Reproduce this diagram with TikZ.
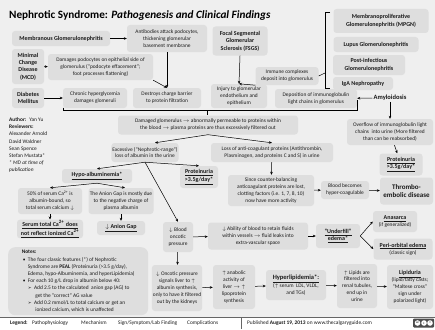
\documentclass[tikz,border=0pt]{standalone}
\usepackage{fontspec}
\setmainfont{Carlito}
\newfontfamily\djv{DejaVu Sans}
\usetikzlibrary{arrows.meta}
\definecolor{bgc}{HTML}{EFEFEF}
\definecolor{boxc}{HTML}{DEDEDE}
\definecolor{txt}{HTML}{1A1A1A}
\newcommand\fs{\fontsize{5.4}{6.9}\selectfont}
\newcommand\bfs{\fontsize{6}{7.4}\selectfont\bfseries}
\newcommand\ul[1]{\underline{#1}}
\tikzset{
  box/.style={fill=boxc, rounded corners=3pt, align=center, inner xsep=1pt, inner ysep=1pt, font=\fs, text=txt},
  bbox/.style={box, font=\bfs},
  plain/.style={align=left, inner sep=0pt, font=\fs, text=txt},
  arr/.style={-{Stealth[length=3pt,width=2.6pt]}, line width=0.5pt, draw=black},
  ln/.style={line width=0.5pt, draw=black},
}
\begin{document}
\begin{tikzpicture}[x=1pt,y=-1pt]
\useasboundingbox (0,0) rectangle (435,329);
\fill[bgc] (0,0) rectangle (435,329);
% title
\node[anchor=west, inner sep=0pt, font=\fontsize{11.2}{13}\selectfont\bfseries, text=black] (title) at (9,16) {Nephrotic Syndrome: \textit{Pathogenesis and Clinical Findings}};
% row 1
\node[bbox, minimum width=98pt, minimum height=15pt] (membgn) at (61,38.5) {Membranous Glomerulonephritis};
\node[box, minimum width=80pt, minimum height=27pt] (antib) at (167,38.5) {Antibodies attack podocytes,\\ thickening glomerular\\ basement membrane};
\node[bbox, minimum width=55pt, minimum height=29pt] (fsgs) at (240,41) {Focal Segmental\\ Glomerular\\ Sclerosis (FSGS)};
\node[bbox, minimum width=95pt, minimum height=24pt] (mpgn) at (381,21) {Membranoproliferative\\ Glomerulonephritis (MPGN)};
\node[bbox, minimum width=85pt, minimum height=15pt] (lupus) at (376,44.5) {Lupus Glomerulonephritis};
\node[bbox, minimum width=72pt, minimum height=20pt] (postinf) at (369,65) {Post-infectious\\ Glomerulonephritis};
\node[bbox, minimum width=60pt, minimum height=13pt] (iga) at (363,83.5) {IgA Nephropathy};
% row 2
\node[bbox, minimum width=32pt, minimum height=35pt] (mcd) at (28,66.5) {Minimal\\ Change\\ Disease\\ (MCD)};
\node[box, minimum width=105pt, minimum height=26pt] (damages) at (100.5,67) {Damages podocytes on epithelial side of\\ glomerulus (“podocyte effacement”;\\ foot processes flattening)};
\node[box, minimum width=63pt, minimum height=18pt] (immune) at (287,76) {Immune complexes\\ deposit into glomerulus};
% row 3
\node[bbox, minimum width=32pt, minimum height=20pt] (diab) at (28,98) {Diabetes\\ Mellitus};
\node[box, minimum width=64pt, minimum height=20pt] (chronic) at (95,98) {Chronic hyperglycemia\\ damages glomeruli};
\node[box, minimum width=68pt, minimum height=20pt] (destroys) at (167,98) {Destroys charge barrier\\ to protein filtration};
\node[box, minimum width=56pt, minimum height=24pt] (injury) at (239,96) {Injury to glomerular\\ endothelium and\\ epithelium};
\node[box, minimum width=82pt, minimum height=19pt] (depos) at (316,98.5) {Deposition of immunoglobulin\\ light chains in glomerulus};
\node[inner sep=1pt, font=\fontsize{6.5}{8}\selectfont\bfseries, text=txt] (amyl) at (390,98) {Amyloidosis};
\node[box, minimum width=86pt, minimum height=26pt] (overflow) at (390,132) {Overflow of immunoglobulin light\\ chains \ into urine (More filtered\\ than can be reabsorbed)};
\node[bbox, minimum width=43pt, minimum height=22pt] (prot2) at (401,164.5) {\ul{Proteinuria}\\ \ul{>3.5g/day*}};
% row 4
\node[box, minimum width=180pt, minimum height=19pt] (damaged) at (208,125) {Damaged glomerulus $\rightarrow$ abnormally permeable to proteins within\\ the blood $\rightarrow$ plasma proteins are thus excessively filtered out};
\node[box, minimum width=66pt, minimum height=19pt] (excess) at (145,152.5) {Excessive (“Nephrotic-range”)\\ loss of albumin in the urine};
\node[box, minimum width=122pt, minimum height=19pt] (loss) at (272,152.5) {Loss of anti-coagulant proteins (Antithrombin,\\ Plasminogen, and proteins C and S) in urine};
% author
\node[plain, anchor=north west, font=\fontsize{5.4}{7.2}\selectfont] (author) at (9,117.5) {\textbf{Author:} \ Yan Yu\\ \textbf{Reviewers:}\\ Alexander Arnold\\ David Waldner\\ Sean Spence\\ Stefan Mustata*\\ \textit{* MD at time of}\\ \textit{publication}};
% row 5
\node[bbox, minimum width=70pt, minimum height=14pt] (hypo) at (97,176) {\ul{Hypo-albuminemia*}};
\node[bbox, minimum width=38pt, minimum height=22pt] (prot1) at (199,177) {\ul{Proteinuria}\\ \ul{>3.5g/day*}};
\node[box, minimum width=86pt, minimum height=31pt] (since) at (271,190.5) {Since counter-balancing\\ anticoagulant proteins are lost,\\ clotting factors (i.e. 1, 7, 8, 10)\\ now have more activity};
\node[box, minimum width=48pt, minimum height=18pt] (hyperco) at (345,190) {Blood becomes\\ hyper-coagulable};
\node[box, minimum width=53pt, minimum height=27pt, font=\fontsize{7}{8.4}\selectfont\bfseries] (thromb) at (406.5,191) {Thrombo-\\ embolic disease};
\node[box, minimum width=64pt, minimum height=26pt] (ca50) at (50,201) {50\% of serum Ca\textsuperscript{2+} is\\ albumin-bound, so\\ total serum calcium $\downarrow$};
\node[box, minimum width=65pt, minimum height=26pt] (anion) at (121,201) {The Anion Gap is mostly due\\ to the negative charge of\\ plasma albumin};
\node[bbox, minimum width=66pt, minimum height=18pt] (serumca) at (50,229) {\ul{Serum total Ca\textsuperscript{2+} does}\\ \ul{not reflect ionized Ca\textsuperscript{2+}}};
\node[bbox, minimum width=48pt, minimum height=14pt] (agdown) at (121,228) {\ul{$\downarrow$ Anion Gap}};
% row 6
\node[box, minimum width=30pt, minimum height=30pt] (oncotic) at (178,237) {$\downarrow$ Blood\\ oncotic\\ pressure};
\node[box, minimum width=100pt, minimum height=27pt] (ability) at (258,236) {$\downarrow$ Ability of blood to retain fluids\\ within vessels $\rightarrow$ fluid leaks into\\ extra-vascular space};
\node[bbox, minimum width=44pt, minimum height=24pt] (underfill) at (338,236) {\ul{“Underfill”}\\ \ul{edema*}};
\node[box, minimum width=44pt, minimum height=21pt] (anasarca) at (395,221.5) {\textbf{\fontsize{6}{7}\selectfont\ul{Anasarca}}\\ (if generalized)};
\node[box, minimum width=59pt, minimum height=21pt] (periorb) at (403,249) {\textbf{\fontsize{6}{7}\selectfont\ul{Peri-orbital edema}}\\ (classic sign)};
% notes
\node[box, align=left, anchor=north west, minimum width=140pt, minimum height=68pt, inner xsep=4pt, inner ysep=2.5pt, font=\fontsize{5.4}{7.2}\selectfont, rounded corners=7pt] (notes) at (8,247) {\textbf{Notes:}\\
\hspace*{1pt}\textbullet\hspace{2.5pt}The four classic features (*) of Nephrotic\\
\hspace*{6pt}Syndrome are \textbf{PEAL} (Proteinuria (>3.5 g/day),\\
\hspace*{6pt}Edema, hypo-Albuminemia, and hyperLipidemia)\\
\hspace*{1pt}\textbullet\hspace{2.5pt}For each 10 g/L drop in albumin below 40:\\
\hspace*{6pt}{\djv\fontsize{4.5}{5}\selectfont ➢}\hspace{2.5pt}Add 2.5 to the calculated \ anion gap (AG) to\\
\hspace*{13.5pt}get the "correct" AG value\\
\hspace*{6pt}{\djv\fontsize{4.5}{5}\selectfont ➢}\hspace{2.5pt}Add 0.2 mmol/L to total calcium or get an\\
\hspace*{13.5pt}ionized calcium, which is unaffected};
% row 7
\node[box, minimum width=50pt, minimum height=46pt] (oncliv) at (177,288) {$\downarrow$ Oncotic pressure\\ signals liver to $\uparrow$\\ albumin synthesis,\\ only to have it filtered\\ out by the kidneys};
\node[box, minimum width=42pt, minimum height=44pt] (anab) at (234,287) {$\uparrow$ anabolic\\ activity of\\ liver $\rightarrow$ $\uparrow$\\ lipoprotein\\ synthesis};
\node[box, minimum width=60pt, minimum height=30pt] (hyperlip) at (296,285) {\textbf{\fontsize{6.5}{8}\selectfont\ul{Hyperlipidemia*:}}\\ ($\uparrow$ serum \ LDL, VLDL,\\ and TGs)};
\node[box, minimum width=40pt, minimum height=44pt] (lipfilt) at (357,286) {$\uparrow$ Lipids are\\ filtered into\\ renal tubules,\\ end up in\\ urine};
\node[box, minimum width=46pt, minimum height=44pt] (lipiduria) at (410,287) {\textbf{\fontsize{6}{7}\selectfont\ul{Lipiduria}}\\ (lipid/fatty casts;\\ “Maltese cross”\\ sign under\\ polarized light)};
% connectors
\draw[arr] (membgn) -- (antib);
\draw[arr] (mcd) -- (damages);
\draw[arr] (diab) -- (chronic);
\draw[arr] (antib.south) -- (destroys.north);
\draw[arr] (damages.south east) -- (destroys.north);
\draw[arr] (fsgs.south) -- (injury.north);
\draw[arr] (immune.south west) -- (injury.north);
\coordinate (brT) at (330,12);
\coordinate (brB) at (330,88);
\draw[ln] (brT) -- (325,12) -- (325,88) -- (brB);
\draw[ln] (immune.east) -- (325,73);
\coordinate (bbL) at (63,107.5);
\coordinate (bbR) at (357,100);
\draw[ln] (bbL) -- (63,110.5) -- (357,110.5) -- (bbR);
\draw[ln] (207,110.5) -- (damaged.north -| 207,0);
\draw[arr] (amyl) -- (depos);
\draw[arr] (amyl) -- (overflow);
\draw[arr] (overflow) -- (prot2);
\draw[arr] (damaged.south) -- ([xshift=10pt]excess.north);
\draw[arr] (damaged.south) -- (loss.north);
\draw[arr] (excess.south) -- (hypo.north);
\draw[arr] (excess.south) -- (prot1.north);
\draw[arr] (excess.south) -- (oncotic.north);
\draw[arr] (hypo.south) -- (ca50.north);
\draw[arr] (hypo.south) -- ([xshift=4pt]anion.north);
\draw[arr] (ca50) -- (serumca);
\draw[arr] (anion) -- (agdown);
\draw[arr] (loss) -- (since);
\draw[arr] (since) -- (hyperco);
\draw[arr] (hyperco) -- (thromb);
\draw[arr] (oncotic) -- (ability);
\draw[arr] (ability) -- (underfill);
\draw[arr] (underfill.east) -- (anasarca.west);
\draw[arr] (underfill.east) -- (periorb.west);
\draw[arr] (oncotic) -- (oncliv);
\draw[arr] (oncliv) -- (anab);
\draw[arr] (anab) -- (hyperlip);
\draw[arr] (hyperlip) -- (lipfilt);
\draw[arr] (lipfilt) -- (lipiduria);
% legend
\fill[white] (0,317) rectangle (435,329);
\draw[line width=0.4pt, black!60] (0,317) -- (435,317);
\draw[line width=0.4pt, black!60] (241,317) -- (241,329);
\node[plain, anchor=west] (leg) at (10,323) {\textbf{Legend:}};
\node[plain, anchor=west] (leg1) at (32,323) {Pathophysiology};
\node[plain, anchor=west] (leg2) at (81,323) {Mechanism};
\node[plain, anchor=west] (leg3) at (118,323) {Sign/Symptom/Lab Finding};
\node[plain, anchor=west] (leg4) at (187,323) {Complications};
\node[plain, anchor=west] (pub) at (247,323) {Published \textbf{August 19, 2013} on www.thecalgaryguide.com};
\fill[black!70, rounded corners=1pt] (413,318.5) rectangle (434,327.5);
\foreach \cx/\tt in {417.5/cc, 424/i, 430/=}{
  \fill[white] (\cx,323) circle (2.8pt);
  \node[inner sep=0pt, font=\fontsize{3}{3}\selectfont\bfseries] at (\cx,323) {\tt};
}
\end{tikzpicture}
\end{document}
